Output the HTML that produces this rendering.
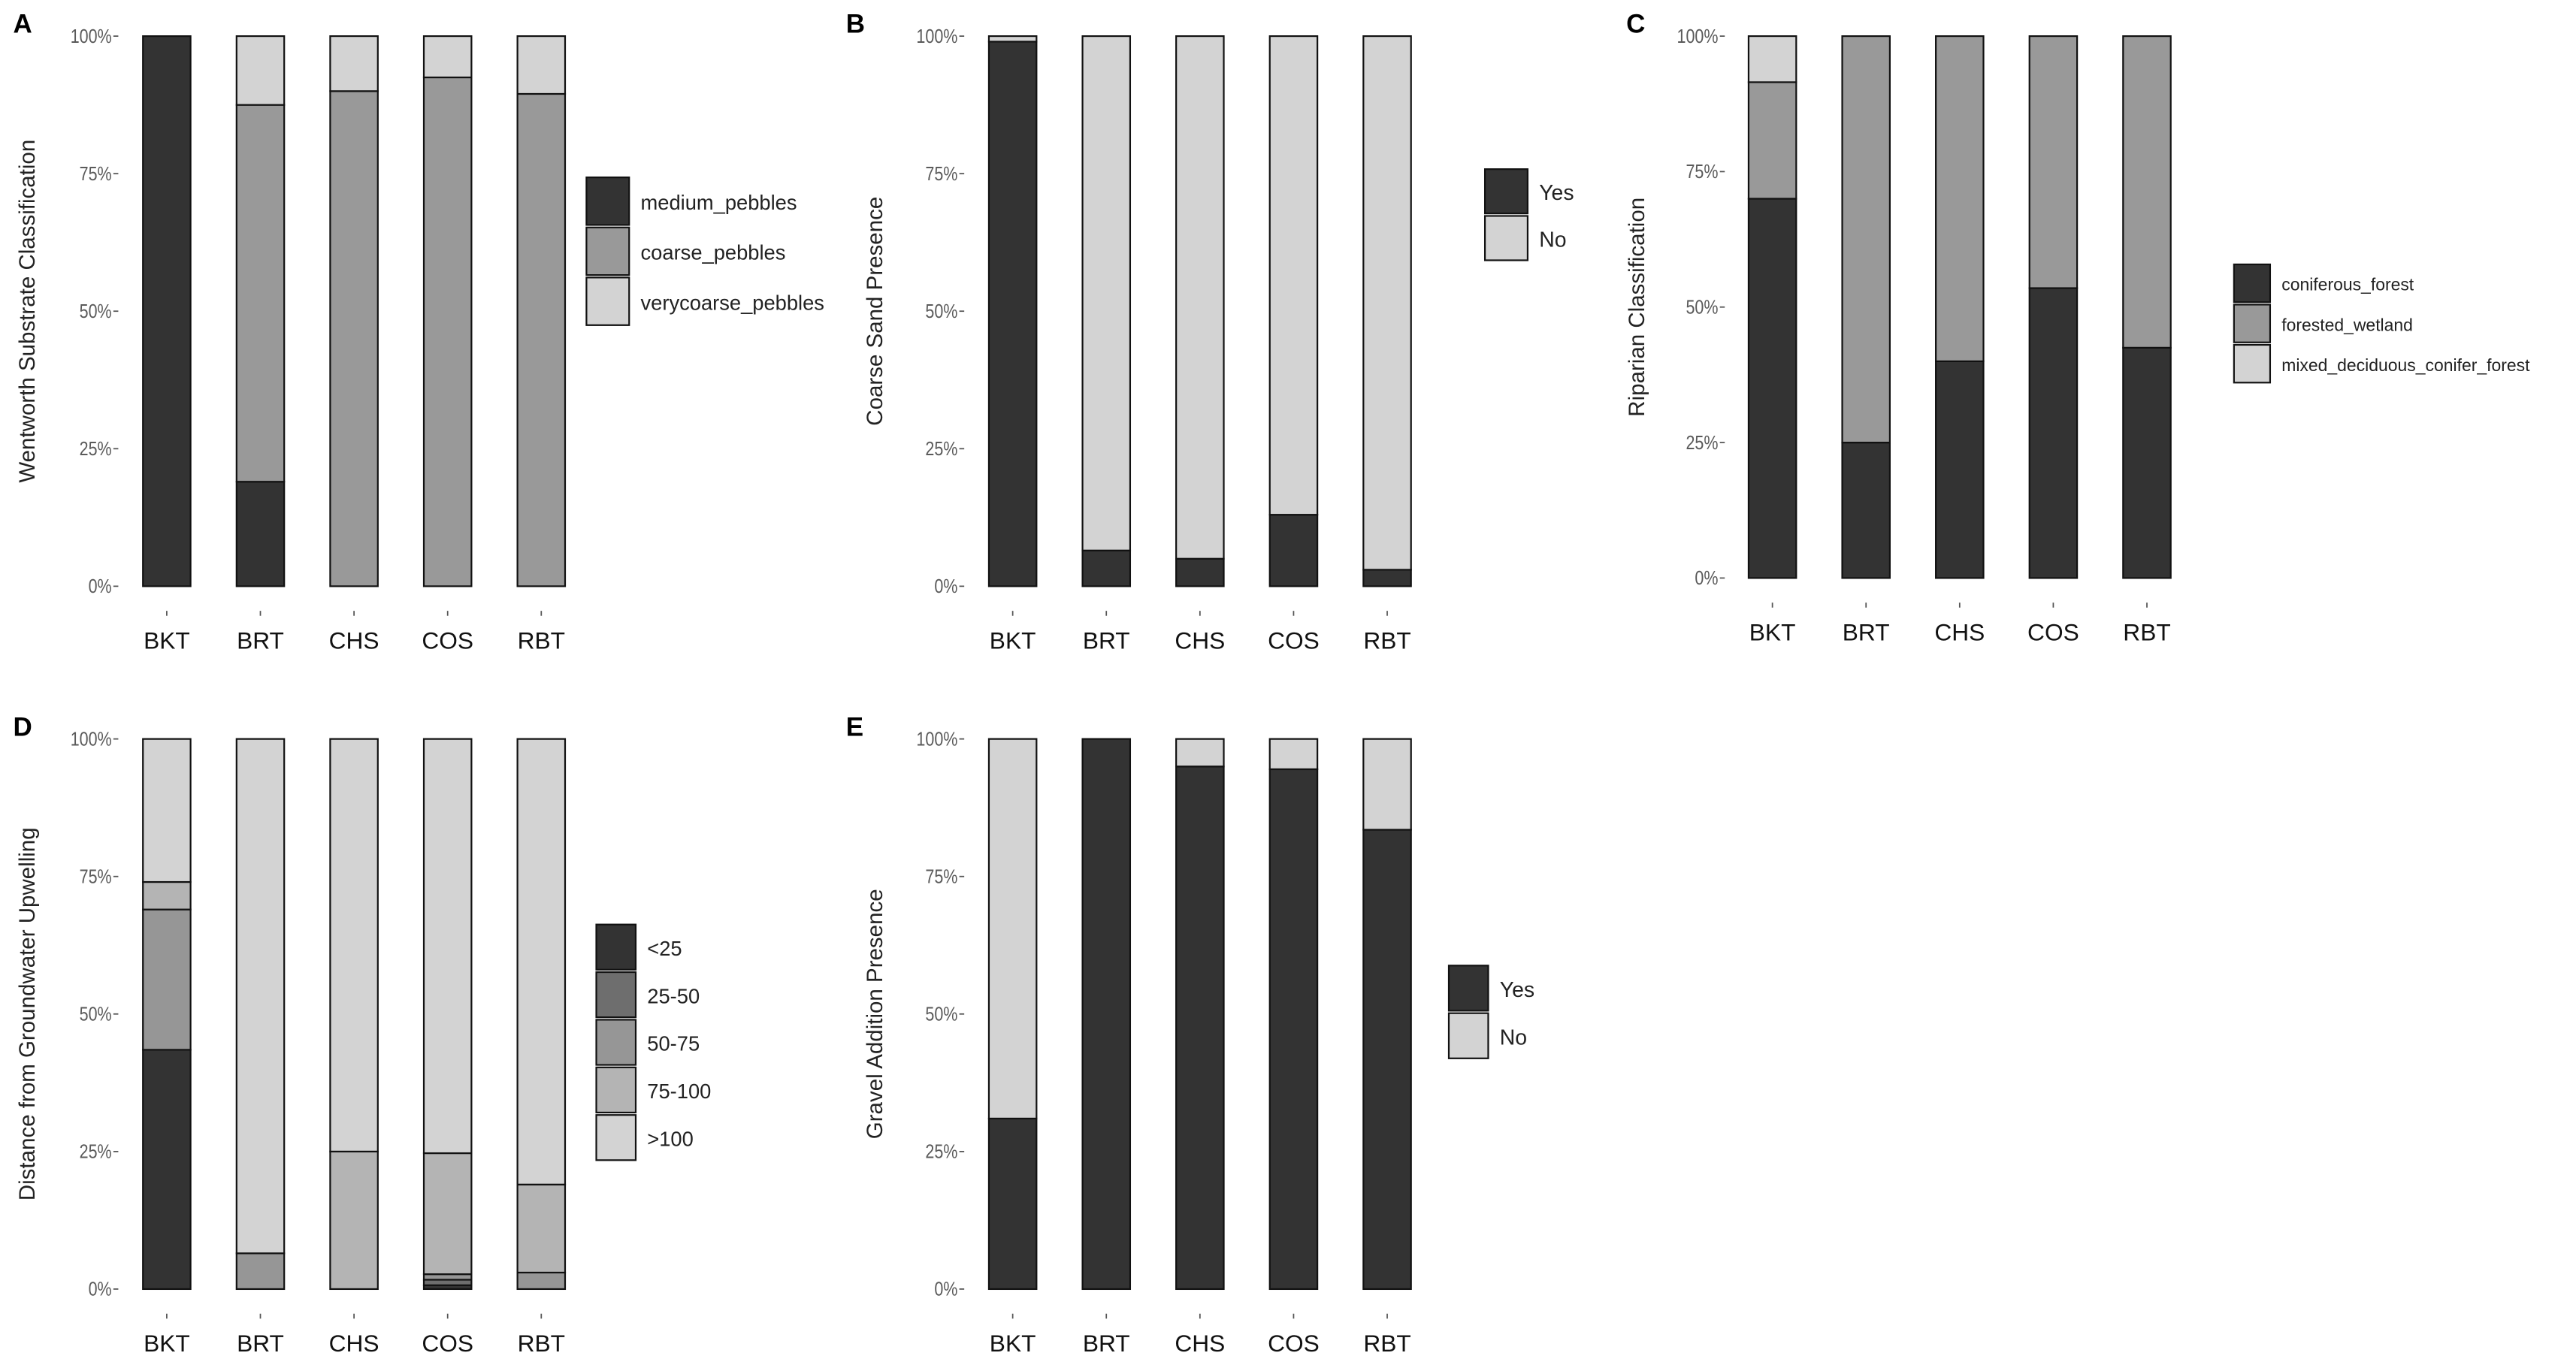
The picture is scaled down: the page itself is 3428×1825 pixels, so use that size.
<!DOCTYPE html>
<html><head><meta charset="utf-8"><style>
html,body{margin:0;padding:0;background:#fff;}
svg{display:block;font-family:"Liberation Sans",sans-serif;}
</style></head><body>
<svg id="fig" width="3428" height="1825" viewBox="0 0 1568.2 834.9" xmlns="http://www.w3.org/2000/svg"></svg>
<script>
const categories = ["BKT","BRT","CHS","COS","RBT"];
const yTicks = [0,25,50,75,100];
const yTickLabels = ["0%","25%","50%","75%","100%"];

const aLevels = ["medium_pebbles","coarse_pebbles","verycoarse_pebbles"];
const aMedium = [100,19,0,0,0];
const aCoarse = [0,68.5,90,92.5,89.5];
const aVeryCoarse = [0,12.5,10,7.5,10.5];

const bLevels = ["Yes","No"];
const bYes = [99,6.5,5,13,3];
const bNo = [1,93.5,95,87,97];

const cLevels = ["coniferous_forest","forested_wetland","mixed_deciduous_conifer_forest"];
const cConif = [70,25,40,53.5,42.5];
const cWetland = [21.5,75,60,46.5,57.5];
const cMixed = [8.5,0,0,0,0];

const dLevels = ["<25","25-50","50-75","75-100",">100"];
const dLt25 = [43.5,0,0,0.7,0];
const d25to50 = [0,0,0,1,0];
const d50to75 = [25.5,6.5,0,1,3];
const d75to100 = [5,0,25,22,16];
const dGt100 = [26,93.5,75,75.3,81];

const eLevels = ["Yes","No"];
const eYes = [31,100,95,94.5,83.5];
const eNo = [69,0,5,5.5,16.5];

const C3 = ["#333333","#999999","#d3d3d3"];
const C2 = ["#333333","#d3d3d3"];
const C5 = ["#333333","#6e6e6e","#969696","#b4b4b4","#d3d3d3"];

const NS = "http://www.w3.org/2000/svg";
const svg = document.getElementById("fig");
function mk(tag, attrs, parent, text){
  const e = document.createElementNS(NS, tag);
  for (const k in attrs) e.setAttribute(k, attrs[k]);
  if (text !== undefined) e.textContent = text;
  (parent || svg).appendChild(e);
  return e;
}

function panel(cfg){
  const g = mk("g", {});
  
  
  const yScale = v => cfg.yBot - (cfg.yBot - cfg.yTop) * v / 100;
  const xScale = i => cfg.x0 + i * 57;
  const w = 29;
  const lt = mk("text", {x: cfg.letterX, y: cfg.yTop - 2, "font-size": 16, "font-weight": "bold", fill: "#000"}, g, cfg.letter);
  
  
  yTicks.forEach((t, k) => {
    const y = yScale(t);
    const tk = mk("line", {x1: cfg.tickX, x2: cfg.tickX + 3, y1: y, y2: y, stroke: "#555", "stroke-width": 0.8}, g);
    
    
    const tl = mk("text", {x: cfg.tickX - 1, y: y + 4, "font-size": 12, fill: "#5a5a5a", "text-anchor": "end", "transform": `translate(${cfg.tickX - 1},0) scale(0.82,1) translate(${-(cfg.tickX - 1)},0)`}, g, yTickLabels[k]);
    
    
  });
  const cy = (cfg.yTop + cfg.yBot) / 2;
  const yt = mk("text", {x: cfg.titleX, y: cy, "font-size": 13.5, fill: "#222", "text-anchor": "middle", transform: `rotate(-90 ${cfg.titleX} ${cy})`}, g, cfg.title);
  
  
  categories.forEach((cat, i) => {
    const cx = xScale(i);
    let acc = 0;
    cfg.series.forEach((s, j) => {
      const v = s[i];
      if (v > 0) {
        const y1 = yScale(acc + v), y0 = yScale(acc);
        const r = mk("rect", {x: cx - w/2, y: y1, width: w, height: y0 - y1, fill: cfg.colors[j], stroke: "#111", "stroke-width": 1}, g);
        
        
      }
      acc += v;
    });
    const xt = mk("line", {x1: cx, x2: cx, y1: cfg.yBot + 15, y2: cfg.yBot + 18, stroke: "#555", "stroke-width": 0.8}, g);
    
    
    const xl = mk("text", {x: cx, y: cfg.yBot + 38, "font-size": 14.5, fill: "#111", "text-anchor": "middle"}, g, cat);
    
    
  });
  cfg.levels.forEach((lv, j) => {
    const y = cfg.legY + j * cfg.legStep;
    const lk = mk("rect", {x: cfg.legX, y: y, width: cfg.legW, height: cfg.legStep - 1.5, fill: cfg.colors[j], stroke: "#111", "stroke-width": 1}, g);
    
    
    const lt2 = mk("text", {x: cfg.legX + cfg.legW + 7, y: y + cfg.legStep/2 + cfg.legFont*0.35, "font-size": cfg.legFont, fill: "#222"}, g, lv);
    
    
  });
}

panel({name:"panel-a-wentworth", letter:"A", letterX:8, title:"Wentworth Substrate Classification", titleX:21,
  yTop:22, yBot:357, x0:101.5, tickX:69,
  series:[aMedium,aCoarse,aVeryCoarse], colors:C3, levels:aLevels,
  legX:357, legY:108, legStep:30.5, legW:26, legFont:12.5});
panel({name:"panel-b-coarse-sand", letter:"B", letterX:515, title:"Coarse Sand Presence", titleX:537,
  yTop:22, yBot:357, x0:616.5, tickX:584,
  series:[bYes,bNo], colors:C2, levels:bLevels,
  legX:904, legY:103, legStep:28.5, legW:26, legFont:13});
panel({name:"panel-c-riparian", letter:"C", letterX:990, title:"Riparian Classification", titleX:1001,
  yTop:22, yBot:352, x0:1079, tickX:1047,
  series:[cConif,cWetland,cMixed], colors:C3, levels:cLevels,
  legX:1360, legY:161, legStep:24.5, legW:22, legFont:10.5});
panel({name:"panel-d-groundwater", letter:"D", letterX:8, title:"Distance from Groundwater Upwelling", titleX:21,
  yTop:450, yBot:785, x0:101.5, tickX:69,
  series:[dLt25,d25to50,d50to75,d75to100,dGt100], colors:C5, levels:dLevels,
  legX:363, legY:563, legStep:29, legW:24, legFont:12.5});
panel({name:"panel-e-gravel", letter:"E", letterX:515, title:"Gravel Addition Presence", titleX:537,
  yTop:450, yBot:785, x0:616.5, tickX:584,
  series:[eYes,eNo], colors:C2, levels:eLevels,
  legX:882, legY:588, legStep:29, legW:24, legFont:13});
</script>
</body></html>
